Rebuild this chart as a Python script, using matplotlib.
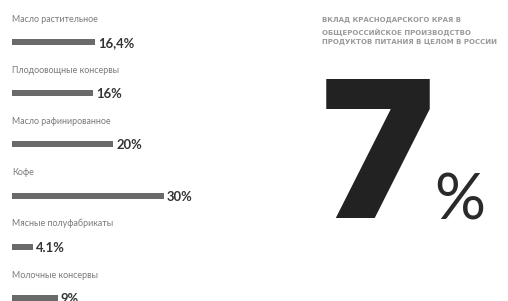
import matplotlib
matplotlib.use("Agg")
import matplotlib.pyplot as plt

categories = ["Масло растительное", "Плодоовощные консервы", "Масло рафинированное",
              "Кофе", "Мясные полуфабрикаты", "Молочные консервы"]
values = [16.4, 16, 20, 30, 4.1, 9]
value_labels = ["16,4%", "16%", "20%", "30%", "4.1%", "9%"]
headline = "ВКЛАД КРАСНОДАРСКОГО КРАЯ В\nОБЩЕРОССИЙСКОЕ ПРОИЗВОДСТВО\nПРОДУКТОВ ПИТАНИЯ В ЦЕЛОМ В РОССИИ"
big_value = "7"
big_unit = "%"

W, H = 508, 301
fig = plt.figure(figsize=(W / 100, H / 100), dpi=100)
fig.patch.set_facecolor("white")

px_per_unit_x = 5.07
ax_w = 220
ax = fig.add_axes([12 / W, 0, ax_w / W, 1])
ax.set_xlim(0, ax_w / px_per_unit_x)
row = 51.2
ax.set_ylim((H - 42) / row, -42 / row)
ax.axis("off")

ypos = list(range(len(values)))
ax.barh(ypos, values, height=6 / row, color="#6a6a6a", left=0)
for i, (c, v, lab) in enumerate(zip(categories, values, value_labels)):
    ax.text(0, i - 23 / row, c, fontsize=6.4, color="#7a7a7a", ha="left", va="center",
            family="Lato")
    ax.text(v + 3 / px_per_unit_x, i + 1 / row, lab, fontsize=9.4, color="#333333",
            ha="left", va="center", family="Lato", fontweight="bold")

fig.text(322 / W, 1 - 17 / H, headline, fontsize=5.0, color="#9a9a9a", ha="left",
         va="top", family="DejaVu Sans", fontweight="bold", linespacing=1.7)
fig.text(321 / W, 1 - 218 / H, big_value, fontsize=138, color="#222222", ha="left",
         va="baseline", family="Inter", fontweight=900)
fig.text(434 / W, 1 - 219 / H, big_unit, fontsize=46, color="#2a2a2a", ha="left",
         va="baseline", family="Lato", fontweight="normal")

fig.savefig("out.png", dpi=100, facecolor="white")
